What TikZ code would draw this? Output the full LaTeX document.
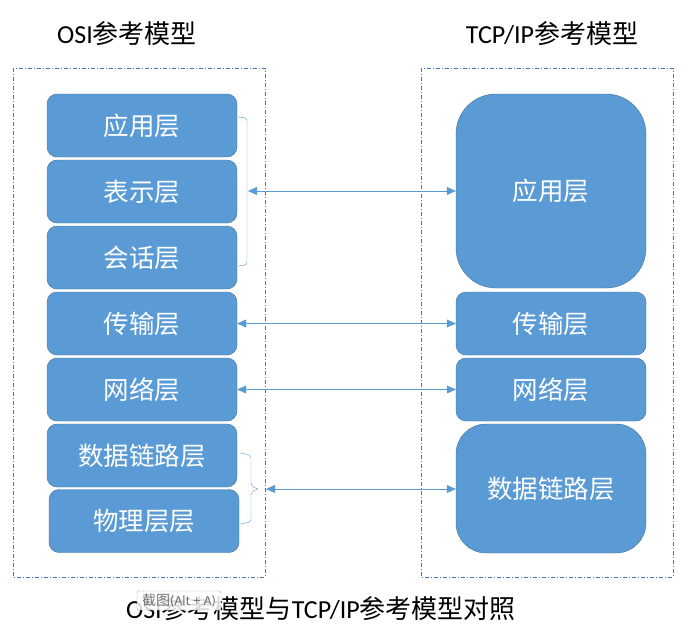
\documentclass[tikz,border=0pt]{standalone}
\usepackage{fontspec}
\setmainfont{Carlito}
\newfontfamily\cjk{Noto Sans CJK SC}
\usetikzlibrary{arrows.meta}
\definecolor{layerblue}{HTML}{5B9BD5}
\definecolor{layerline}{HTML}{41719C}
\definecolor{frameblue}{HTML}{4472C4}
\tikzset{
  layer/.style={draw=layerline, fill=layerblue, rounded corners=10pt, text=white,
    font=\cjk\fontsize{25.5}{30}\selectfont, minimum width=190pt, minimum height=63pt, inner sep=0pt},
  frame/.style={draw=frameblue, thin, dash pattern=on 4pt off 2pt on 1pt off 2pt},
  link/.style={draw=layerblue, thin, {Triangle[width=8pt,length=9pt]}-{Triangle[width=8pt,length=9pt]}},
  brace/.style={draw=layerblue, thin, rounded corners=3pt},
  title/.style={font=\fontsize{26}{30}\selectfont}
}
\begin{document}
\begin{tikzpicture}[x=1pt,y=-1pt]
\useasboundingbox (0,0) rectangle (689,635);
% dashed frames
\draw[frame] (13,68) rectangle (265,577);
\draw[frame] (421,68) rectangle (673,577);
% titles
\node[title] (osiTitle) at (127,34) {OSI{\cjk 参考模型}};
\node[title] (tcpTitle) at (552,34) {TCP/IP{\cjk 参考模型}};
% OSI layers
\node[layer] (osiApp) at (142,125.5) {应用层};
\node[layer] (osiPres) at (142,191.5) {表示层};
\node[layer] (osiSess) at (142,257.5) {会话层};
\node[layer] (osiTrans) at (142,323.5) {传输层};
\node[layer] (osiNet) at (142,389.5) {网络层};
\node[layer] (osiLink) at (142,455.5) {数据链路层};
\node[layer] (osiPhy) at (144,521) {物理层层};
% TCP/IP layers
\node[layer, rounded corners=40pt, minimum height=194pt] (tcpApp) at (551,191) {应用层};
\node[layer] (tcpTrans) at (551,323.5) {传输层};
\node[layer] (tcpNet) at (551,389.5) {网络层};
\node[layer, rounded corners=30pt, minimum height=129pt] (tcpLink) at (551,488.5) {数据链路层};
% brackets
\draw[brace] (238,117) -- (247,118) -- (247,265) -- (238,266);
\coordinate (upTip) at (248,191);
\draw[brace] (240,453) -- (251,455) -- (251,486) -- (258,489);
\draw[brace] (240,524) -- (251,522) -- (251,492) -- (258,489);
\coordinate (lowTip) at (266,489);
% links
\draw[link] (upTip) -- (tcpApp.west |- upTip);
\draw[link] (osiTrans) -- (tcpTrans);
\draw[link] (osiNet) -- (tcpNet);
\draw[link] (lowTip) -- (tcpLink.west |- lowTip);
% caption
\node[title] (caption) at (321,609) {OSI{\cjk 参考模型与}TCP/IP{\cjk 参考模型对照}};
\node[draw=gray!70, fill=white, fill opacity=0.85, text opacity=1, rounded corners=2pt,
  minimum width=84pt, minimum height=19pt, inner sep=0pt, text=gray!90!black,
  font=\fontsize{14}{16}\selectfont] (shotTip) at (179,600.5) {{\cjk 截图}(Alt + A)};
\end{tikzpicture}
\end{document}
